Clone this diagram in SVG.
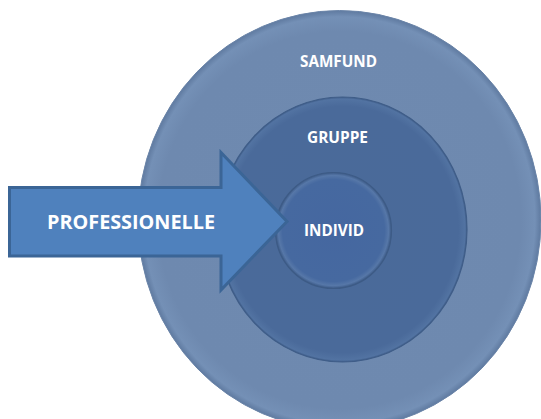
<svg xmlns="http://www.w3.org/2000/svg" width="541" height="419" viewBox="0 0 541 419">
<defs>
<radialGradient id="gOuter" cx="0.5" cy="0.5" r="0.5">
<stop offset="0" stop-color="#6f8ab0"/>
<stop offset="0.9" stop-color="#6e89af"/>
<stop offset="0.97" stop-color="#7490b6"/>
<stop offset="1" stop-color="#5f7aa0"/>
</radialGradient>
<radialGradient id="gMid" cx="0.5" cy="0.5" r="0.5">
<stop offset="0" stop-color="#4a6a99"/>
<stop offset="0.93" stop-color="#4a6a9a"/>
<stop offset="0.985" stop-color="#5273a2"/>
<stop offset="1" stop-color="#3e5c88"/>
</radialGradient>
<radialGradient id="gIn" cx="0.5" cy="0.5" r="0.5">
<stop offset="0" stop-color="#4567a0"/>
<stop offset="0.88" stop-color="#4669a0"/>
<stop offset="0.95" stop-color="#5677a8"/>
<stop offset="1" stop-color="#3c5a86"/>
</radialGradient>
<style>
.lbl{font-family:"Open Sans","Liberation Sans",Arial,sans-serif;font-weight:bold;fill:#ffffff;text-anchor:middle}
</style>
</defs>
<rect width="541" height="419" fill="#ffffff"/>
<g id="samfund">
<ellipse cx="339.5" cy="220" rx="201.5" ry="209.5" fill="url(#gOuter)" stroke="#6a84a8" stroke-width="1"/>
<text class="lbl" x="338.5" y="67" font-size="15.5" textLength="77" lengthAdjust="spacingAndGlyphs">SAMFUND</text>
</g>
<g id="gruppe">
<ellipse cx="342.5" cy="229.5" rx="124.5" ry="132.5" fill="url(#gMid)" stroke="#3f5d88" stroke-width="1.2"/>
<text class="lbl" x="337.5" y="143" font-size="15.5" textLength="61" lengthAdjust="spacingAndGlyphs">GRUPPE</text>
</g>
<g id="individ">
<circle cx="333.5" cy="230.5" r="58" fill="url(#gIn)" stroke="#3d5b86" stroke-width="1.2"/>
<text class="lbl" x="334" y="236" font-size="15.5" textLength="60" lengthAdjust="spacingAndGlyphs">INDIVID</text>
</g>
<g id="connectors">
<g id="professionelle">
<path d="M9.5,187.5 L221,187.5 L221,152.5 L287,221.5 L221,290 L221,256 L9.5,256 Z" fill="#4f81bd" stroke="#3b6596" stroke-width="3" stroke-linejoin="miter"/>
<text class="lbl" x="131" y="229" font-size="19.5" textLength="168" lengthAdjust="spacingAndGlyphs">PROFESSIONELLE</text>
</g>
</g>
</svg>
